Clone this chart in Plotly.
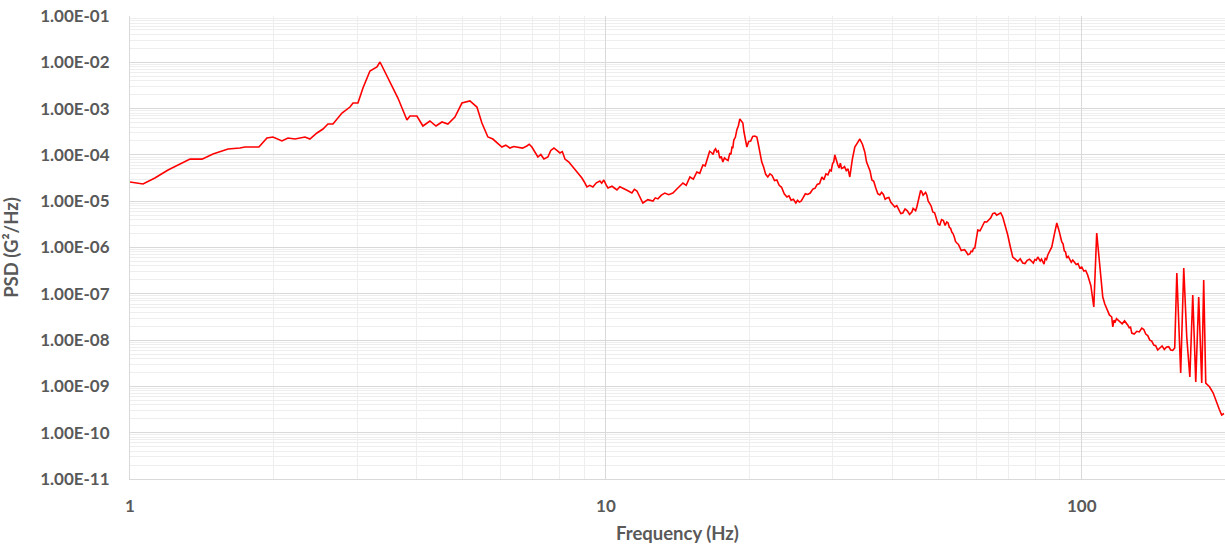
import plotly.graph_objects as go

# Acceleration PSD spectrum, split into frequency bands (Hz, G^2/Hz)

# 1-6 Hz: low-frequency rise and the main 3.3 Hz resonance
freq_band1 = [
    1.000, 1.065, 1.128, 1.202, 1.337, 1.417, 1.494, 1.607,
    1.702, 1.744, 1.866, 1.940, 1.997, 2.086, 2.147, 2.222,
    2.332, 2.388, 2.471, 2.544, 2.606, 2.670, 2.789, 2.899,
    2.942, 3.013, 3.087, 3.193, 3.303, 3.352, 3.401, 3.518,
    3.656, 3.819, 3.875, 4.007, 4.126, 4.268, 4.395, 4.524,
    4.656, 4.817, 4.983, 5.179, 5.358, 5.489, 5.650, 5.788,
]
psd_band1 = [
    2.60e-5, 2.35e-5, 3.17e-5, 4.72e-5, 8.15e-5, 8.10e-5, 1.05e-4, 1.34e-4,
    1.41e-4, 1.48e-4, 1.48e-4, 2.32e-4, 2.44e-4, 2.00e-4, 2.32e-4, 2.20e-4,
    2.44e-4, 2.20e-4, 2.97e-4, 3.62e-4, 4.65e-4, 4.65e-4, 8.04e-4, 1.08e-3,
    1.32e-3, 1.32e-3, 2.79e-3, 6.49e-3, 7.92e-3, 1.015e-2, 7.53e-3, 3.75e-3,
    1.69e-3, 5.67e-4, 6.92e-4, 6.92e-4, 4.21e-4, 5.40e-4, 4.21e-4, 5.14e-4,
    4.65e-4, 6.59e-4, 1.32e-3, 1.46e-3, 1.08e-3, 4.89e-4, 2.44e-4, 2.20e-4,
]

# 6-16 Hz: plateau, fall-off and trough near 12 Hz
freq_band2 = [
    6.046, 6.160, 6.285, 6.400, 6.534, 6.680, 6.823, 6.900,
    6.990, 7.100, 7.197, 7.300, 7.409, 7.554, 7.660, 7.778,
    7.890, 8.007, 8.100, 8.203, 8.360, 8.527, 8.700, 8.905,
    9.010, 9.123, 9.250, 9.391, 9.550, 9.714, 9.800, 9.900,
    10.00, 10.10, 10.30, 10.55, 10.70, 10.86, 11.10, 11.34,
    11.48, 11.62, 11.80, 11.96, 12.25, 12.56, 12.70, 12.86,
    13.08, 13.30, 13.55, 13.83, 14.15, 14.52, 14.75, 15.02,
    15.27, 15.53, 15.75, 15.99,
]
psd_band2 = [
    1.48e-4, 1.62e-4, 1.41e-4, 1.52e-4, 1.48e-4, 1.40e-4, 1.56e-4, 1.70e-4,
    1.48e-4, 1.10e-4, 9.00e-5, 1.02e-4, 8.15e-5, 9.00e-5, 1.25e-4, 1.41e-4,
    1.22e-4, 1.10e-4, 1.18e-4, 8.15e-5, 7.00e-5, 5.48e-5, 4.40e-5, 3.17e-5,
    2.60e-5, 2.03e-5, 2.20e-5, 2.03e-5, 2.50e-5, 2.73e-5, 2.45e-5, 2.87e-5,
    2.30e-5, 1.93e-5, 2.10e-5, 1.75e-5, 2.05e-5, 1.93e-5, 1.70e-5, 1.50e-5,
    1.80e-5, 1.66e-5, 1.25e-5, 9.14e-6, 1.08e-5, 1.01e-5, 1.18e-5, 1.12e-5,
    1.35e-5, 1.50e-5, 1.38e-5, 1.50e-5, 1.90e-5, 2.47e-5, 2.20e-5, 3.33e-5,
    3.00e-5, 4.28e-5, 4.00e-5, 6.05e-5,
]

# 16-35 Hz: resonances near 19 Hz, 30 Hz and 34 Hz
freq_band3 = [
    16.17, 16.35, 16.52, 16.70, 16.80, 16.90, 17.00, 17.11,
    17.23, 17.35, 17.48, 17.61, 17.75, 17.90, 18.06, 18.22,
    18.31, 18.40, 18.48, 18.57, 18.71, 18.85, 18.98, 19.12,
    19.26, 19.40, 19.50, 19.60, 19.69, 19.78, 19.96, 20.15,
    20.35, 20.56, 20.76, 20.91, 21.07, 21.26, 21.45, 21.67,
    21.89, 22.12, 22.35, 22.61, 22.87, 23.13, 23.40, 23.70,
    24.01, 24.25, 24.50, 24.78, 25.07, 25.28, 25.50, 25.72,
    25.94, 26.25, 26.55, 26.88, 27.22, 27.50, 27.80, 28.12,
    28.44, 28.72, 29.00, 29.28, 29.56, 29.75, 29.95, 30.11,
    30.28, 30.50, 30.72, 30.91, 31.10, 31.28, 31.47, 31.73,
    32.00, 32.27, 32.55, 32.95, 33.35, 33.75, 34.17, 34.60,
    35.00,
]
psd_band3 = [
    5.80e-5, 8.50e-5, 1.20e-4, 1.10e-4, 1.02e-4, 1.25e-4, 1.35e-4, 1.16e-4,
    1.22e-4, 8.50e-5, 9.20e-5, 7.03e-5, 8.60e-5, 8.00e-5, 7.60e-5, 1.10e-4,
    1.02e-4, 1.45e-4, 1.40e-4, 2.10e-4, 2.40e-4, 3.50e-4, 4.20e-4, 5.96e-4,
    5.40e-4, 4.89e-4, 3.20e-4, 2.60e-4, 1.90e-4, 1.48e-4, 1.95e-4, 2.00e-4,
    2.50e-4, 2.56e-4, 2.44e-4, 1.70e-4, 1.10e-4, 7.00e-5, 5.50e-5, 3.80e-5,
    3.33e-5, 3.90e-5, 3.60e-5, 2.80e-5, 2.87e-5, 2.20e-5, 2.00e-5, 1.45e-5,
    1.23e-5, 1.30e-5, 1.05e-5, 1.10e-5, 9.14e-6, 1.05e-5, 9.60e-6, 1.00e-5,
    1.17e-5, 1.45e-5, 1.40e-5, 1.50e-5, 1.83e-5, 1.90e-5, 2.30e-5, 2.40e-5,
    3.33e-5, 2.90e-5, 3.90e-5, 3.70e-5, 4.72e-5, 4.50e-5, 6.50e-5, 7.00e-5,
    9.95e-5, 7.20e-5, 6.05e-5, 5.20e-5, 6.60e-5, 5.10e-5, 5.21e-5, 5.60e-5,
    4.60e-5, 5.00e-5, 3.33e-5, 8.00e-5, 1.48e-4, 1.80e-4, 2.20e-4, 1.70e-4,
    1.16e-4,
]

# 35-72 Hz: decay with modes near 46 Hz and 66 Hz
freq_band4 = [
    35.30, 35.60, 35.90, 36.22, 36.55, 36.90, 37.27, 37.64,
    37.97, 38.30, 38.62, 38.94, 39.32, 39.70, 40.08, 40.47,
    40.86, 41.25, 41.66, 42.07, 42.53, 43.00, 43.47, 43.95,
    44.22, 44.50, 44.76, 45.02, 45.30, 45.60, 45.86, 46.12,
    46.41, 46.70, 46.97, 47.25, 47.57, 47.90, 48.27, 48.64,
    49.07, 49.50, 49.90, 50.31, 50.75, 51.20, 51.62, 52.05,
    52.37, 52.70, 53.01, 53.32, 53.63, 53.95, 54.29, 54.63,
    55.01, 55.40, 55.81, 56.23, 56.71, 57.20, 57.68, 58.17,
    58.53, 58.90, 59.25, 59.60, 60.05, 60.47, 61.13, 61.80,
    62.48, 63.16, 63.78, 64.40, 65.02, 65.65, 66.27, 66.90,
    67.56, 68.23, 69.05, 69.90, 70.75, 71.61,
]
psd_band4 = [
    7.00e-5, 5.50e-5, 4.50e-5, 2.87e-5, 2.70e-5, 1.95e-5, 1.45e-5, 1.36e-5,
    1.55e-5, 1.40e-5, 1.10e-5, 1.17e-5, 1.20e-5, 9.50e-6, 8.30e-6, 7.50e-6,
    8.00e-6, 6.40e-6, 5.40e-6, 5.56e-6, 6.80e-6, 6.20e-6, 5.20e-6, 5.85e-6,
    7.00e-6, 6.60e-6, 6.20e-6, 7.50e-6, 1.05e-5, 1.30e-5, 1.70e-5, 1.58e-5,
    1.35e-5, 1.45e-5, 1.55e-5, 1.36e-5, 1.00e-5, 9.00e-6, 7.80e-6, 5.85e-6,
    5.60e-6, 4.20e-6, 3.20e-6, 3.06e-6, 4.00e-6, 3.80e-6, 3.00e-6, 3.56e-6,
    3.40e-6, 2.70e-6, 2.60e-6, 2.16e-6, 2.00e-6, 1.70e-6, 1.35e-6, 1.25e-6,
    1.18e-6, 1.02e-6, 8.60e-7, 8.83e-7, 9.00e-7, 8.00e-7, 7.00e-7, 7.24e-7,
    8.30e-7, 8.20e-7, 9.60e-7, 9.75e-7, 1.60e-6, 2.39e-6, 2.30e-6, 2.90e-6,
    3.60e-6, 3.56e-6, 3.90e-6, 4.40e-6, 5.40e-6, 5.56e-6, 5.00e-6, 5.30e-6,
    5.60e-6, 4.56e-6, 3.00e-6, 1.86e-6, 1.05e-6, 6.24e-7,
]

# 72-157 Hz: 89 Hz mode, sharp 107 Hz line and high-frequency roll-off
freq_band5 = [
    72.48, 73.35, 74.25, 75.16, 75.98, 76.80, 77.66, 78.52,
    79.11, 79.70, 80.26, 80.83, 81.31, 81.80, 82.30, 82.81,
    83.30, 83.80, 84.32, 84.84, 85.65, 86.50, 87.55, 88.62,
    89.70, 90.78, 91.34, 91.90, 92.45, 93.00, 93.67, 94.35,
    95.04, 95.74, 96.54, 97.35, 98.19, 99.03, 100.0, 101.0,
    101.9, 102.9, 104.5, 106.0, 107.5, 108.6, 110.7, 111.8,
    113.0, 114.3, 115.6, 116.2, 116.9, 117.6, 118.3, 119.0,
    120.3, 121.6, 123.0, 124.3, 125.0, 125.8, 126.6, 127.4,
    128.9, 130.5, 132.1, 133.7, 135.0, 136.3, 137.6, 139.0,
    140.3, 141.7, 143.0, 144.4, 145.9, 147.5, 149.1, 150.8,
    152.3, 153.8, 155.3, 156.8,
]
psd_band5 = [
    5.60e-7, 5.00e-7, 5.70e-7, 4.62e-7, 4.50e-7, 5.30e-7, 5.60e-7, 4.86e-7,
    4.60e-7, 5.50e-7, 5.30e-7, 6.24e-7, 5.70e-7, 5.10e-7, 5.60e-7, 4.86e-7,
    4.40e-7, 5.80e-7, 5.50e-7, 6.89e-7, 8.50e-7, 1.03e-6, 1.90e-6, 3.38e-6,
    2.20e-6, 1.32e-6, 1.20e-6, 8.50e-7, 8.00e-7, 5.93e-7, 6.40e-7, 5.70e-7,
    4.80e-7, 5.37e-7, 4.90e-7, 4.30e-7, 4.50e-7, 3.61e-7, 3.80e-7, 3.10e-7,
    3.20e-7, 2.55e-7, 1.50e-7, 5.19e-8, 2.06e-6, 7.60e-7, 8.53e-8, 6.00e-8,
    4.60e-8, 3.50e-8, 3.15e-8, 1.92e-8, 2.70e-8, 2.50e-8, 2.90e-8, 2.72e-8,
    2.50e-8, 2.25e-8, 2.60e-8, 2.34e-8, 2.10e-8, 1.85e-8, 1.90e-8, 1.42e-8,
    1.35e-8, 1.55e-8, 1.50e-8, 1.82e-8, 1.70e-8, 1.35e-8, 1.25e-8, 1.00e-8,
    9.50e-9, 7.80e-9, 7.60e-9, 6.11e-9, 6.90e-9, 7.50e-9, 6.30e-9, 7.10e-9,
    7.20e-9, 6.10e-9, 6.00e-9, 6.75e-9,
]

# 157-200 Hz: narrow tonal spikes and the final roll-off
freq_band6 = [
    158.4, 161.4, 163.8, 166.2, 168.7, 171.1, 173.6, 176.1,
    178.7, 180.4, 182.2, 185.7, 188.9, 192.1, 194.5, 196.8,
    199.0,
]
psd_band6 = [
    2.81e-7, 1.95e-9, 3.61e-7, 1.17e-8, 1.60e-9, 9.42e-8, 1.24e-9, 8.53e-8,
    1.18e-9, 1.99e-7, 1.18e-9, 9.70e-10, 7.20e-10, 4.38e-10, 3.20e-10, 2.41e-10,
    2.60e-10,
]

freq_hz = freq_band1 + freq_band2 + freq_band3 + freq_band4 + freq_band5 + freq_band6
psd_g2_hz = psd_band1 + psd_band2 + psd_band3 + psd_band4 + psd_band5 + psd_band6
assert len(freq_hz) == len(psd_g2_hz)

y_tick_values = [1e-1, 1e-2, 1e-3, 1e-4, 1e-5, 1e-6, 1e-7, 1e-8, 1e-9, 1e-10, 1e-11]
y_tick_labels = ["1.00E-01", "1.00E-02", "1.00E-03", "1.00E-04", "1.00E-05", "1.00E-06",
                 "1.00E-07", "1.00E-08", "1.00E-09", "1.00E-10", "1.00E-11"]
x_tick_values = [1, 10, 100]
x_tick_labels = ["1", "10", "100"]

TEXT = "#595959"
MAJOR_GRID = "#d9d9d9"
MINOR_GRID = "#eeeeee"
FONT = "Lato"

x_minor = [m * 10 ** k for k in range(0, 3) for m in range(2, 10)]
y_minor = [m * 10.0 ** k for k in range(-11, -1) for m in range(2, 10)]

fig = go.Figure(
    go.Scatter(
        x=freq_hz,
        y=psd_g2_hz,
        mode="lines",
        line=dict(color="#ff0000", width=1.6),
        hoverinfo="x+y",
    )
)

fig.update_layout(
    width=1225,
    height=548,
    margin=dict(l=130, r=0, t=16, b=69),
    paper_bgcolor="white",
    plot_bgcolor="white",
    showlegend=False,
    font=dict(family=FONT, color=TEXT, size=17),
)

fig.update_xaxes(
    type="log",
    range=[0, 2.301],
    tickmode="array",
    tickvals=x_tick_values,
    ticktext=x_tick_labels,
    tickfont=dict(family=FONT, size=17, color=TEXT, weight="bold"),
    ticks="outside",
    ticklen=12,
    tickcolor="rgba(0,0,0,0)",
    showgrid=True,
    gridcolor=MAJOR_GRID,
    gridwidth=1,
    minor=dict(tickmode="array", tickvals=x_minor, showgrid=True, gridcolor=MINOR_GRID, ticks=""),
    showline=True,
    linecolor=MAJOR_GRID,
    zeroline=False,
    title=dict(text="Frequency (Hz)", font=dict(family=FONT, size=18.5, color=TEXT, weight="bold"),
               standoff=11),
)

fig.update_yaxes(
    type="log",
    range=[-11, -1],
    tickmode="array",
    tickvals=y_tick_values,
    ticktext=y_tick_labels,
    tickfont=dict(family=FONT, size=17, color=TEXT, weight="bold"),
    ticks="outside",
    ticklen=16,
    tickcolor="rgba(0,0,0,0)",
    showgrid=True,
    gridcolor=MAJOR_GRID,
    gridwidth=1,
    minor=dict(tickmode="array", tickvals=y_minor, showgrid=True, gridcolor=MINOR_GRID, ticks=""),
    showline=True,
    linecolor=MAJOR_GRID,
    zeroline=False,
    title=dict(text="PSD (G²/Hz)", font=dict(family=FONT, size=18.5, color=TEXT, weight="bold"),
               standoff=17),
)

fig.write_html("out.html")
